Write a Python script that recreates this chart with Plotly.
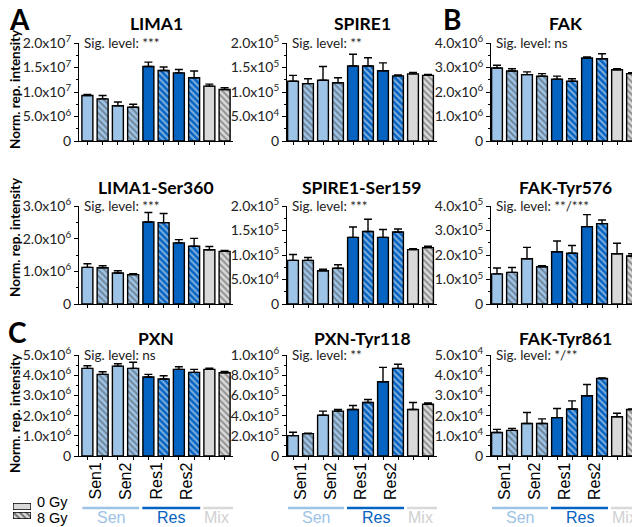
import plotly.graph_objects as go

# page body has an 8px margin, so the figure is sized to fill the remaining window
OFF = 8
W, H = 640 - OFF, 527 - OFF

# ---------------- data ----------------
conditions = ["Sen1 0Gy", "Sen1 8Gy", "Sen2 0Gy", "Sen2 8Gy",
              "Res1 0Gy", "Res1 8Gy", "Res2 0Gy", "Res2 8Gy",
              "Mix 0Gy", "Mix 8Gy"]
group_of = ["Sen", "Sen", "Sen", "Sen", "Res", "Res", "Res", "Res", "Mix", "Mix"]
dose_of = ["0 Gy", "8 Gy"] * 5

lima1 = [9.3e6, 8.6e6, 7.2e6, 6.9e6, 15.2e6, 14.4e6, 13.9e6, 12.9e6, 11.2e6, 10.5e6]
lima1_err = [0.2e6, 0.7e6, 0.75e6, 0.6e6, 0.9e6, 0.7e6, 0.7e6, 1.4e6, 0.4e6, 0.4e6]

spire1 = [1.22e5, 1.17e5, 1.24e5, 1.19e5, 1.53e5, 1.53e5, 1.435e5, 1.33e5, 1.37e5, 1.34e5]
spire1_err = [0.12e5, 0.10e5, 0.28e5, 0.10e5, 0.24e5, 0.17e5, 0.16e5, 0.02e5, 0.03e5, 0.02e5]

fak = [2.98e6, 2.86e6, 2.71e6, 2.64e6, 2.52e6, 2.44e6, 3.39e6, 3.36e6, 2.91e6, 2.75e6]
fak_err = [0.11e6, 0.09e6, 0.11e6, 0.11e6, 0.13e6, 0.10e6, 0.04e6, 0.20e6, 0.04e6, 0.04e6]

lima1_s360 = [1.12e6, 1.11e6, 0.95e6, 0.90e6, 2.51e6, 2.49e6, 1.87e6, 1.77e6, 1.66e6, 1.61e6]
lima1_s360_err = [0.11e6, 0.06e6, 0.07e6, 0.03e6, 0.29e6, 0.28e6, 0.10e6, 0.24e6, 0.10e6, 0.03e6]

spire1_s159 = [0.89e5, 0.89e5, 0.68e5, 0.73e5, 1.36e5, 1.48e5, 1.36e5, 1.47e5, 1.11e5, 1.15e5]
spire1_s159_err = [0.12e5, 0.06e5, 0.03e5, 0.07e5, 0.21e5, 0.25e5, 0.16e5, 0.06e5, 0.02e5, 0.03e5]

fak_y576 = [1.23e5, 1.29e5, 1.85e5, 1.52e5, 2.13e5, 2.07e5, 3.16e5, 3.28e5, 2.05e5, 1.96e5]
fak_y576_err = [0.24e5, 0.20e5, 0.46e5, 0.04e5, 0.44e5, 0.32e5, 0.49e5, 0.15e5, 0.43e5, 0.09e5]

pxn = [4.34e6, 4.04e6, 4.45e6, 4.34e6, 3.91e6, 3.81e6, 4.29e6, 4.14e6, 4.29e6, 4.12e6]
pxn_err = [0.13e6, 0.13e6, 0.12e6, 0.30e6, 0.13e6, 0.16e6, 0.13e6, 0.15e6, 0.06e6, 0.07e6]

pxn_y118 = [2.02e5, 2.22e5, 4.04e5, 4.44e5, 4.60e5, 5.30e5, 7.35e5, 8.68e5, 4.60e5, 5.13e5]
pxn_y118_err = [0.33e5, 0.03e5, 0.40e5, 0.16e5, 0.40e5, 0.30e5, 1.42e5, 0.40e5, 0.70e5, 0.13e5]

fak_y861 = [1.16e4, 1.27e4, 1.61e4, 1.61e4, 1.90e4, 2.33e4, 2.98e4, 3.84e4, 1.94e4, 2.30e4]
fak_y861_err = [0.16e4, 0.10e4, 0.54e4, 0.23e4, 0.45e4, 0.40e4, 0.56e4, 0.02e4, 0.18e4, 0.03e4]

titles = ["LIMA1", "SPIRE1", "FAK",
          "LIMA1-Ser360", "SPIRE1-Ser159", "FAK-Tyr576",
          "PXN", "PXN-Tyr118", "FAK-Tyr861"]
sig_levels = ["***", "**", "ns", "***", "***", "**/***", "ns", "**", "*/**"]

ticks_lima1 = [0, 5e6, 1e7, 1.5e7, 2e7]
ticktext_lima1 = ["0", "5.0x10<sup>6</sup>", "1.0x10<sup>7</sup>", "1.5x10<sup>7</sup>", "2.0x10<sup>7</sup>"]
ticks_spire1 = [0, 5e4, 1e5, 1.5e5, 2e5]
ticktext_spire1 = ["0", "5.0x10<sup>4</sup>", "1.0x10<sup>5</sup>", "1.5x10<sup>5</sup>", "2.0x10<sup>5</sup>"]
ticks_fak = [0, 1e6, 2e6, 3e6, 4e6]
ticktext_fak = ["0", "1.0x10<sup>6</sup>", "2.0x10<sup>6</sup>", "3.0x10<sup>6</sup>", "4.0x10<sup>6</sup>"]
ticks_lima1_s360 = [0, 1e6, 2e6, 3e6]
ticktext_lima1_s360 = ["0", "1.0x10<sup>6</sup>", "2.0x10<sup>6</sup>", "3.0x10<sup>6</sup>"]
ticks_spire1_s159 = [0, 5e4, 1e5, 1.5e5, 2e5]
ticktext_spire1_s159 = ["0", "5.0x10<sup>4</sup>", "1.0x10<sup>5</sup>", "1.5x10<sup>5</sup>", "2.0x10<sup>5</sup>"]
ticks_fak_y576 = [0, 1e5, 2e5, 3e5, 4e5]
ticktext_fak_y576 = ["0", "1.0x10<sup>5</sup>", "2.0x10<sup>5</sup>", "3.0x10<sup>5</sup>", "4.0x10<sup>5</sup>"]
ticks_pxn = [0, 1e6, 2e6, 3e6, 4e6, 5e6]
ticktext_pxn = ["0", "1.0x10<sup>6</sup>", "2.0x10<sup>6</sup>", "3.0x10<sup>6</sup>", "4.0x10<sup>6</sup>", "5.0x10<sup>6</sup>"]
ticks_pxn_y118 = [0, 2e5, 4e5, 6e5, 8e5, 1e6]
ticktext_pxn_y118 = ["0", "2.0x10<sup>5</sup>", "4.0x10<sup>5</sup>", "6.0x10<sup>5</sup>", "8.0x10<sup>5</sup>", "1.0x10<sup>6</sup>"]
ticks_fak_y861 = [0, 1e4, 2e4, 3e4, 4e4, 5e4]
ticktext_fak_y861 = ["0", "1.0x10<sup>4</sup>", "2.0x10<sup>4</sup>", "3.0x10<sup>4</sup>", "4.0x10<sup>4</sup>", "5.0x10<sup>4</sup>"]

xlabels = ["Sen1", "Sen2", "Res1", "Res2"]
xlabel_pos = [0.5, 2.5, 4.5, 6.5]
group_names = ["Sen", "Res", "Mix"]
group_spans = [(-0.33, 3.4), (3.6, 7.4), (7.6, 9.6)]
legend_labels = ["0 Gy", "8 Gy"]
legend_shapes = ["", "\\"]

panels = [
    (lima1, lima1_err, ticks_lima1, ticktext_lima1),
    (spire1, spire1_err, ticks_spire1, ticktext_spire1),
    (fak, fak_err, ticks_fak, ticktext_fak),
    (lima1_s360, lima1_s360_err, ticks_lima1_s360, ticktext_lima1_s360),
    (spire1_s159, spire1_s159_err, ticks_spire1_s159, ticktext_spire1_s159),
    (fak_y576, fak_y576_err, ticks_fak_y576, ticktext_fak_y576),
    (pxn, pxn_err, ticks_pxn, ticktext_pxn),
    (pxn_y118, pxn_y118_err, ticks_pxn_y118, ticktext_pxn_y118),
    (fak_y861, fak_y861_err, ticks_fak_y861, ticktext_fak_y861),
]

# ---------------- style ----------------
group_color = {"Sen": "#9DC3E6", "Res": "#0563C1", "Mix": "#D9D9D9"}
group_text_color = {"Sen": "#9DC3E6", "Res": "#0563C1", "Mix": "#D0D0D0"}
FONT = "Lato"
XFONT = "Liberation Sans"
PATTERN = dict(fgcolor="black", size=4.5, solidity=0.42, fillmode="overlay")

# positions given in window pixels
col_px = [(79, 233, [-0.55, 9.55]), (287, 437, [-0.4, 9.6]), (491, 640, [-0.4, 9.53])]
row_px = [(43, 141), (206, 304), (355, 456)]
title_y = [23, 187, 338]
ytitle_y = [89, 237, 413]
legend_box_px = [(13, 31, 503, 510), (13, 31, 512, 519)]
legend_text_y = [502, 518]


def fx(p):
    return min(max((p - OFF) / W, 0), 1)


def fy(p):
    return min(max(1 - (p - OFF) / H, 0), 1)


fig = go.Figure()
layout = dict(
    width=W, height=H, margin=dict(l=0, r=0, t=0, b=0, autoexpand=False),
    paper_bgcolor="white", plot_bgcolor="white",
    showlegend=False, bargap=0.28,
    font=dict(family=FONT, color="#222222"),
)
annotations = []
shapes = []

bar_colors = [group_color[g] for g in group_of]
bar_shapes = ["" if d == "0 Gy" else "\\" for d in dose_of]
xs = list(range(len(conditions)))

for i, (vals, errs, tv, tt) in enumerate(panels):
    r, c = divmod(i, 3)
    k = i + 1
    x0, x1, xr = col_px[c]
    y0, y1 = row_px[r]
    fig.add_trace(go.Bar(
        x=xs, y=vals, xaxis=f"x{k}", yaxis=f"y{k}",
        marker=dict(color=bar_colors, line=dict(color="black", width=1.4),
                    pattern=dict(shape=bar_shapes, **PATTERN)),
        error_y=dict(type="data", array=errs, arrayminus=[0] * len(errs), symmetric=False,
                     color="black", thickness=1.4, width=4),
        hoverinfo="skip",
    ))
    minor_vals = [(tv[j] + tv[j + 1]) / 2 for j in range(len(tv) - 1)]
    layout[f"xaxis{k}"] = dict(
        domain=[fx(x0), fx(x1)], range=xr, anchor=f"y{k}", automargin=False,
        showline=True, linecolor="black", linewidth=1, mirror=False,
        ticks="outside", ticklen=3, tickcolor="black", tickvals=xs,
        showticklabels=False, showgrid=False, zeroline=False, fixedrange=True,
    )
    layout[f"yaxis{k}"] = dict(
        domain=[fy(y1), fy(y0)], range=[0, tv[-1]], anchor=f"x{k}", automargin=False,
        showline=True, linecolor="black", linewidth=1,
        ticks="outside", ticklen=4, tickcolor="black",
        tickmode="array", tickvals=tv, ticktext=tt,
        tickfont=dict(family=FONT, size=14, color="#222222"),
        minor=dict(tickmode="array", tickvals=minor_vals, ticks="outside", ticklen=2, tickcolor="black"),
        showgrid=False, zeroline=False, fixedrange=True,
    )
    annotations.append(dict(
        text=f"<b>{titles[i]}</b>", x=fx((x0 + x1) / 2), y=fy(title_y[r]),
        xref="paper", yref="paper", xanchor="center", yanchor="middle", showarrow=False,
        font=dict(family=FONT, size=17.5, color="black"),
    ))
    annotations.append(dict(
        text=f"Sig. level: {sig_levels[i]}", x=fx(x0 + 3), y=fy(y0),
        xref="paper", yref="paper", xanchor="left", yanchor="middle", showarrow=False,
        font=dict(family=FONT, size=13.5, color="#222222"),
    ))
    if r == 2:
        for lab, pos in zip(xlabels, xlabel_pos):
            annotations.append(dict(
                text=lab, x=pos, y=fy(y1 + 5), xref=f"x{k}", yref="paper",
                xanchor="center", yanchor="top", textangle=-90, showarrow=False,
                font=dict(family=XFONT, size=16, color="black"),
            ))
        for g, (a, b) in zip(group_names, group_spans):
            shapes.append(dict(
                type="line", xref=f"x{k}", yref="paper", x0=a, x1=min(b, xr[1]),
                y0=fy(508), y1=fy(508), line=dict(color=group_color[g], width=2.5),
            ))
            annotations.append(dict(
                text=g, x=(a + b) / 2 if g != "Mix" else 8.5, y=fy(517), xref=f"x{k}", yref="paper",
                xanchor="center", yanchor="middle", showarrow=False,
                font=dict(family=XFONT, size=16, color=group_text_color[g]),
            ))

for r in range(3):
    annotations.append(dict(
        text="<b>Norm. rep. intensity</b>", x=fx(15), y=fy(ytitle_y[r]),
        xref="paper", yref="paper", xanchor="center", yanchor="middle", textangle=-90,
        showarrow=False, font=dict(family=FONT, size=13.5, color="black"),
    ))

for letter, (px, py) in zip(["A", "B", "C"], [(19, 19), (452, 19), (17, 332)]):
    annotations.append(dict(
        text=f"<b>{letter}</b>", x=fx(px), y=fy(py), xref="paper", yref="paper",
        xanchor="center", yanchor="middle", showarrow=False,
        font=dict(family=FONT, size=28, color="black"),
    ))

# legend: each key box is a one-bar chart filling its own tiny axis, so the hatch matches
for j, (lab, shp, (bx0, bx1, by0, by1), ty) in enumerate(zip(legend_labels, legend_shapes,
                                                               legend_box_px, legend_text_y)):
    k = 10 + j
    fig.add_trace(go.Bar(
        x=[0], y=[1], width=[1], xaxis=f"x{k}", yaxis=f"y{k}",
        marker=dict(color="#D9D9D9", line=dict(color="black", width=1.3),
                    pattern=dict(shape=shp, **PATTERN)),
        hoverinfo="skip",
    ))
    layout[f"xaxis{k}"] = dict(domain=[fx(bx0), fx(bx1)], range=[-0.5, 0.5], anchor=f"y{k}",
                               visible=False, fixedrange=True, automargin=False)
    layout[f"yaxis{k}"] = dict(domain=[fy(by1), fy(by0)], range=[0, 1], anchor=f"x{k}",
                               visible=False, fixedrange=True, automargin=False)
    annotations.append(dict(
        text=lab, x=fx(35), y=fy(ty), xref="paper", yref="paper",
        xanchor="left", yanchor="middle", showarrow=False,
        font=dict(family=XFONT, size=14.5, color="black"),
    ))

layout["annotations"] = annotations
layout["shapes"] = shapes
fig.update_layout(**layout)
fig.write_html("out.html")
